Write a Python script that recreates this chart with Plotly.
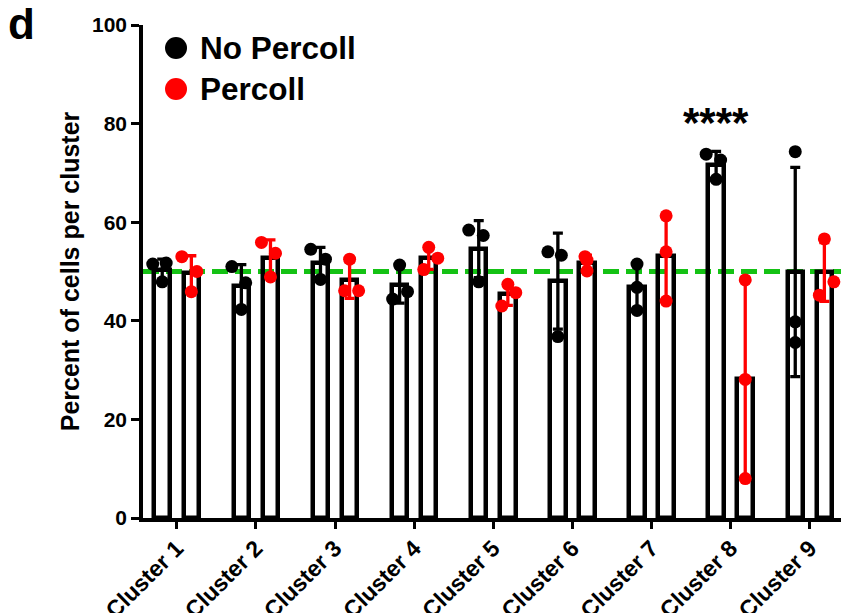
import numpy as np
import plotly.graph_objects as go

# ---- data ----
clusters = ["Cluster 1", "Cluster 2", "Cluster 3", "Cluster 4", "Cluster 5",
            "Cluster 6", "Cluster 7", "Cluster 8", "Cluster 9"]
no_percoll = [[51.5, 51.7, 47.9], [51.0, 47.7, 42.3], [54.5, 52.5, 48.4],
              [51.3, 44.4, 45.9], [58.4, 57.3, 47.9], [54.0, 53.3, 36.8],
              [51.5, 46.8, 42.1], [73.8, 72.6, 68.7], [74.3, 39.8, 35.6]]
percoll = [[53.0, 50.0, 45.9], [55.9, 53.7, 48.9], [52.5, 46.1, 46.1],
           [54.9, 52.7, 50.4], [47.4, 45.7, 43.0], [53.0, 52.3, 50.1],
           [61.3, 54.0, 44.0], [48.3, 28.1, 8.0], [56.6, 47.9, 45.2]]
y_ticks = [0, 20, 40, 60, 80, 100]
reference_level = 50
significance = "****"
significance_cluster = "Cluster 8"

# ---- styling (horizontal jitter of points, in fractions of a category) ----
jitter_no = [[-0.12, 0.05, 0], [-0.12, 0.055, 0], [-0.123, 0.063, 0],
             [0, -0.088, 0.1], [-0.126, 0.057, 0], [-0.126, 0.044, 0],
             [0, 0, 0], [-0.126, 0.057, 0], [0, 0, 0]]
jitter_p = [[-0.12, 0.07, 0], [-0.114, 0.063, 0], [0, -0.063, 0.114],
            [0, 0.114, -0.063], [0, 0.1, -0.076], [-0.025, 0, 0],
            [0, 0, 0], [0, 0, 0], [0, 0.12, -0.063]]

OFF = 0.184
BW = 0.196
FONT = "Liberation Sans, Arial, sans-serif"

idx = np.arange(len(clusters))
no_arr = np.array(no_percoll)
p_arr = np.array(percoll)

fig = go.Figure()

for arr, sign, col in [(no_arr, -1, "black"), (p_arr, 1, "#ff0000")]:
    fig.add_trace(go.Bar(
        x=idx + sign * OFF, y=arr.mean(axis=1), width=BW,
        marker=dict(color="rgba(0,0,0,0)", line=dict(color="black", width=4.5)),
        error_y=dict(type="data", array=arr.std(axis=1, ddof=1), visible=True,
                     color=col, thickness=3.3, width=5),
        showlegend=False, hoverinfo="skip"))

for arr, jit, sign, col in [(no_arr, jitter_no, -1, "black"), (p_arr, jitter_p, 1, "#ff0000")]:
    xs = (idx[:, None] + sign * OFF + np.array(jit)).ravel()
    fig.add_trace(go.Scatter(
        x=xs, y=arr.ravel(), mode="markers",
        marker=dict(size=13, color=col), showlegend=False, cliponaxis=False))

# reference line
fig.add_shape(type="line", xref="paper", x0=0, x1=1, yref="y",
              y0=reference_level, y1=reference_level, layer="between",
              line=dict(color="#14c214", width=5, dash="16px,7px"))

# legend (drawn manually)
for yp, col, label in [(0.9533, "black", "No Percoll"), (0.870, "#ff0000", "Percoll")]:
    fig.add_shape(type="circle", xref="paper", yref="paper",
                  xsizemode="pixel", ysizemode="pixel",
                  xanchor=0.0469, yanchor=yp, x0=-11, x1=11, y0=-11, y1=11,
                  fillcolor=col, line=dict(width=0, color=col))
    fig.add_annotation(x=0.0785, y=yp, xref="paper", yref="paper",
                       text=label, showarrow=False, xanchor="left", yanchor="middle",
                       font=dict(family=FONT, size=31.5, color="black", weight="bold"))

# panel letter
fig.add_annotation(x=-0.194, y=1.056, xref="paper", yref="paper", text="d",
                   showarrow=False, xanchor="left", yanchor="top",
                   font=dict(family=FONT, size=44, color="black", weight="bold"))

# significance
sig_i = clusters.index(significance_cluster)
fig.add_annotation(x=sig_i - OFF, y=75.0, xref="x", yref="y", text=significance,
                   showarrow=False, xanchor="center", yanchor="bottom",
                   font=dict(family=FONT, size=42, color="black", weight="bold"))

fig.update_layout(
    width=849, height=613,
    margin=dict(l=135, r=10, t=17, b=103, autoexpand=False),
    plot_bgcolor="white", paper_bgcolor="white",
    font=dict(family=FONT, color="black", weight="bold"),
    bargap=0, showlegend=False,
)
fig.update_xaxes(
    range=[-0.427, 8.47], tickmode="array", tickvals=idx, ticktext=clusters,
    tickangle=-45, tickfont=dict(family=FONT, size=23, weight="bold"),
    ticklabelstandoff=-3,
    showline=True, linecolor="black", linewidth=3.5, automargin=False,
    ticks="outside", ticklen=7, tickwidth=3, tickcolor="black",
    showgrid=False, zeroline=False,
)
fig.update_yaxes(
    range=[0, 100], tickmode="array", tickvals=y_ticks,
    tickfont=dict(family=FONT, size=21, weight="bold"),
    title=dict(text="Percent of cells per cluster",
               font=dict(family=FONT, size=25, weight="bold"), standoff=6),
    showline=True, linecolor="black", linewidth=3.5, automargin=False,
    ticks="outside", ticklen=8, tickwidth=3, tickcolor="black",
    showgrid=False, zeroline=False,
)

fig.write_html("out.html")
